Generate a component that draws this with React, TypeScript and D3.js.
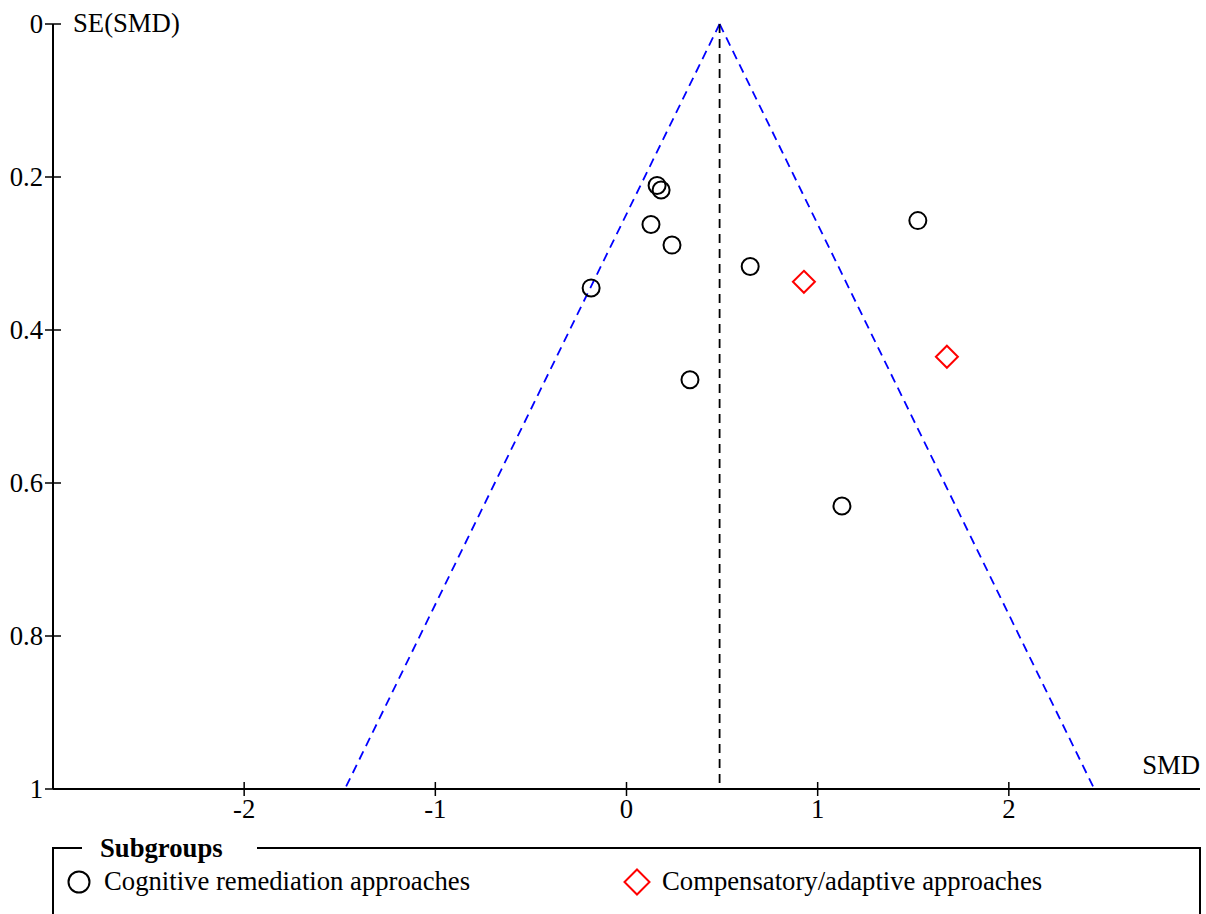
import React from "react";
import * as d3 from "d3";

const cogSMD = [0.16, 0.181, 0.128, 0.238, -0.185, 0.332, 0.647, 1.524, 1.127];
const cogSE = [0.211, 0.217, 0.262, 0.289, 0.345, 0.465, 0.317, 0.257, 0.63];
const compSMD = [0.928, 1.676];
const compSE = [0.337, 0.435];
const pooled = 0.487;
const xTicks = [-2, -1, 0, 1, 2];
const yTicks = [0, 0.2, 0.4, 0.6, 0.8, 1];
const legendLabels = ["Cognitive remediation approaches", "Compensatory/adaptive approaches"];

const W = 1206;
const H = 914;
const font = "'Liberation Serif', 'Times New Roman', serif";
const FS = 26.7;

export default function App() {
  const x = d3.scaleLinear().domain([-3, 3]).range([53, 1200]);
  const y = d3.scaleLinear().domain([0, 1]).range([24, 789]);
  const line = d3.line<[number, number]>().x((d) => x(d[0])).y((d) => y(d[1]));
  const left: [number, number][] = [[pooled, 0], [pooled - 1.96, 1]];
  const right: [number, number][] = [[pooled, 0], [pooled + 1.96, 1]];
  const diamond = (cx: number, cy: number, r: number) =>
    `M${cx},${cy - r}L${cx + r},${cy}L${cx},${cy + r}L${cx - r},${cy}Z`;
  return (
    <svg width={W} height={H} style={{ position: "absolute", left: 0, top: 0, display: "block" }} fontFamily={font}>
      <rect x={0} y={0} width={W} height={H} fill="white" />
      {/* funnel */}
      <path d={line(left) || ""} fill="none" stroke="#0000ff" strokeWidth={1.8} strokeDasharray="9,6" />
      <path d={line(right) || ""} fill="none" stroke="#0000ff" strokeWidth={1.8} strokeDasharray="9,6" />
      <line x1={x(pooled)} x2={x(pooled)} y1={y(0)} y2={y(1)} stroke="black" strokeWidth={1.8} strokeDasharray="9,6" />
      {/* axes */}
      <line x1={x(-3)} x2={x(3)} y1={y(1)} y2={y(1)} stroke="black" strokeWidth={2} />
      <line x1={x(-3)} x2={x(-3)} y1={y(0)} y2={y(1)} stroke="black" strokeWidth={2} />
      {yTicks.map((t) => (
        <g key={"y" + t}>
          <line x1={x(-3) - 8} x2={x(-3) + 8} y1={y(t)} y2={y(t)} stroke="black" strokeWidth={1.5} />
          <text x={x(-3) - 10} y={y(t) + 8.5} fontSize={FS} textAnchor="end">{t}</text>
        </g>
      ))}
      {xTicks.map((t) => (
        <g key={"x" + t}>
          <line x1={x(t)} x2={x(t)} y1={y(1) - 7} y2={y(1) + 7} stroke="black" strokeWidth={1.5} />
          <text x={x(t)} y={y(1) + 29} fontSize={FS} textAnchor="middle">{t}</text>
        </g>
      ))}
      <text x={73} y={32} fontSize={FS}>SE(SMD)</text>
      <text x={1200} y={774} fontSize={FS} textAnchor="end">SMD</text>
      {/* points */}
      {cogSMD.map((v, i) => (
        <circle key={"c" + i} cx={x(v)} cy={y(cogSE[i])} r={8.5} fill="none" stroke="black" strokeWidth={2} />
      ))}
      {compSMD.map((v, i) => (
        <path key={"d" + i} d={diamond(x(v), y(compSE[i]), 11)} fill="none" stroke="#ff0000" strokeWidth={2} />
      ))}
      {/* legend */}
      <path d={`M82,848 L53,848 L53,${H + 5}`} fill="none" stroke="black" strokeWidth={2} />
      <path d={`M257,848 L1200,848 L1200,${H + 5}`} fill="none" stroke="black" strokeWidth={2} />
      <text x={100} y={857} fontSize={FS} fontWeight="bold">Subgroups</text>
      <circle cx={79} cy={882} r={10.5} fill="none" stroke="black" strokeWidth={2} />
      <text x={104} y={890} fontSize={FS}>{legendLabels[0]}</text>
      <path d={diamond(637, 882, 12.5)} fill="none" stroke="#ff0000" strokeWidth={2} />
      <text x={662} y={890} fontSize={FS}>{legendLabels[1]}</text>
    </svg>
  );
}
